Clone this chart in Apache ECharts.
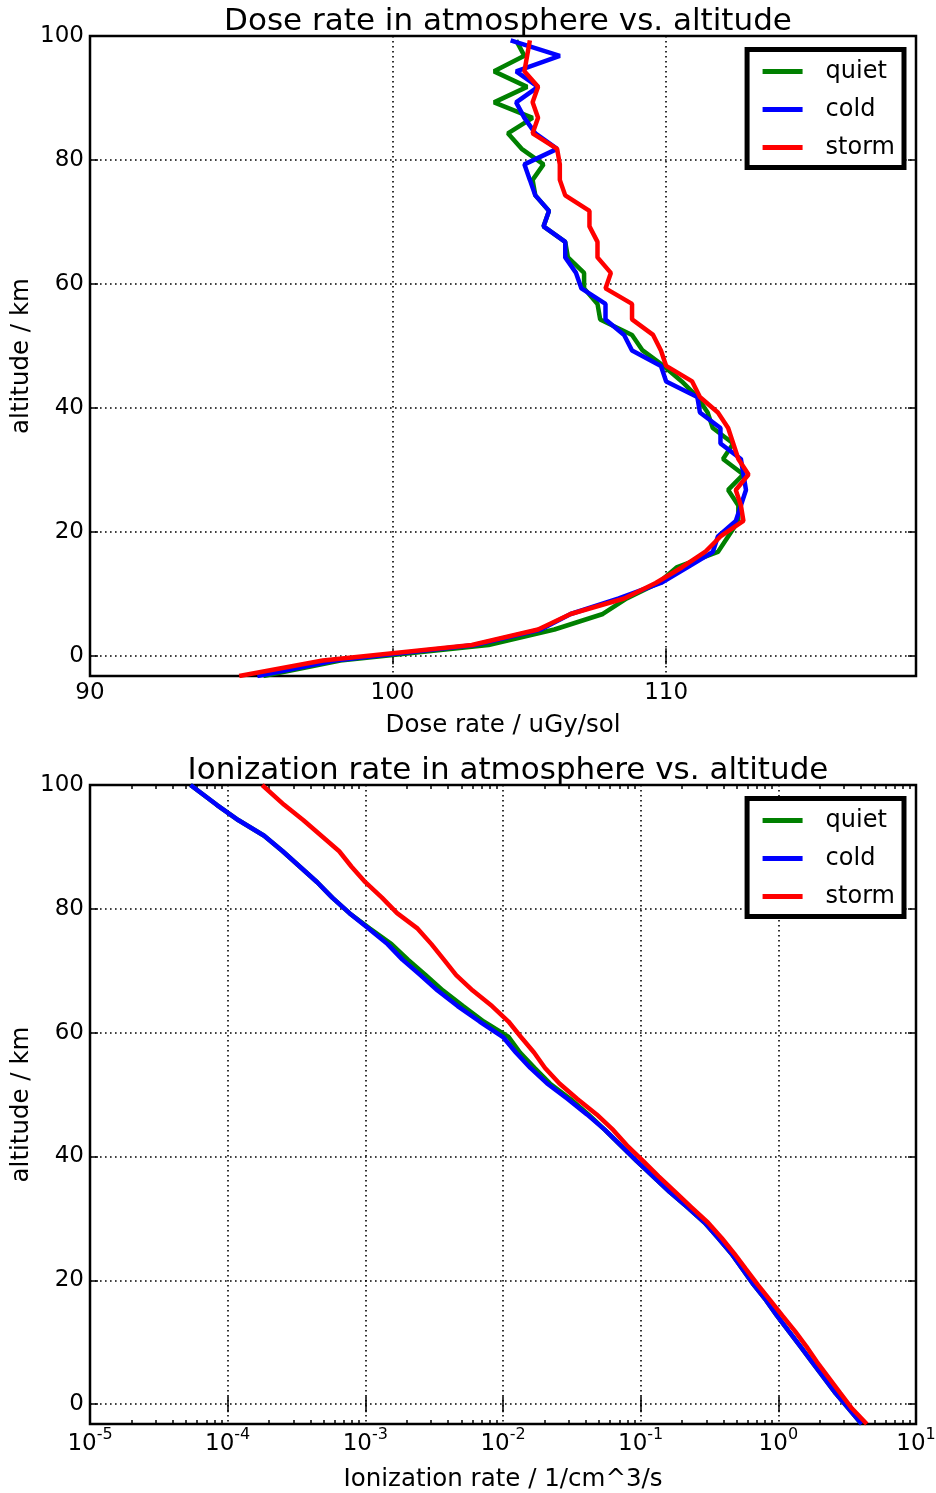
<!DOCTYPE html>
<html>
<head>
<meta charset="utf-8">
<script src="https://cdn.jsdelivr.net/npm/echarts@6/dist/echarts.min.js"></script>
<style>
  html, body { margin: 0; padding: 0; background: #fff; }
  #chart { width: 936px; height: 1493px; }
</style>
</head>
<body>
<div id="chart"></div>
<script>
// Altitude levels (km) of the dose profile
const ALTITUDE = [-3.2, -0.7, 1.8, 4.3, 6.8, 9.3, 11.8, 14.3, 16.8, 19.3, 21.8, 24.3, 26.8, 29.3,
  31.8, 34.3, 36.8, 39.3, 41.8, 44.3, 46.8, 49.3, 51.8, 54.3, 56.8, 59.3, 61.8, 64.3, 66.8, 69.3,
  71.8, 74.3, 76.8, 79.3, 81.8, 84.3, 86.8, 89.3, 91.8, 94.3, 96.8, 99.3];

// Dose rate (uGy/sol) per altitude level
const DOSE_QUIET = [95.6, 98.2, 103.4, 105.8, 107.6, 108.5, 109.7, 110.4, 112.0, 112.4, 112.8, 112.8, 112.4, 113.0,
  112.2, 112.6, 111.8, 111.6, 111.2, 110.6, 109.9, 109.1, 108.7, 107.5, 107.4, 106.9, 106.9, 106.3, 106.2, 105.4,
  105.6, 105.1, 105.0, 105.4, 104.6, 104.1, 105.0, 103.6, 104.8, 103.6, 104.7, 104.4];
const DOSE_COLD = [95.4, 98.0, 102.9, 105.3, 106.4, 108.2, 109.8, 110.8, 111.8, 112.0, 112.7, 112.9, 113.1, 113.0,
  112.9, 112.1, 112.1, 111.3, 111.2, 110.0, 109.8, 108.7, 108.4, 107.7, 107.7, 106.8, 106.6, 106.2, 106.2, 105.4,
  105.6, 105.1, 104.9, 104.7, 105.9, 105.1, 104.7, 104.4, 105.2, 104.4, 106.0, 104.2];
const DOSE_STORM = [94.8, 97.6, 102.8, 105.2, 106.4, 108.4, 109.6, 110.6, 111.5, 112.1, 113.0, 112.9, 112.7, 113.2,
  112.8, 112.6, 112.4, 112.0, 111.3, 111.0, 110.0, 109.8, 109.5, 108.7, 108.7, 107.7, 107.9, 107.4, 107.4, 107.1,
  107.1, 106.2, 106.0, 106.0, 105.9, 105.0, 105.2, 105.0, 105.2, 104.7, 104.8, 104.9];

// Altitude levels (km) of the ionization profile
const ION_ALTITUDE = [-3.2, -0.7, 1.8, 4.3, 6.8, 9.3, 11.8, 14.3, 16.8, 19.3, 21.8, 24.3, 26.8, 29.3,
  31.8, 34.3, 36.8, 39.3, 41.8, 44.3, 46.8, 49.3, 51.8, 54.3, 56.8, 59.3, 61.8, 64.3, 66.8, 69.3,
  71.8, 74.3, 76.8, 79.3, 81.8, 84.3, 86.8, 89.3, 91.8, 94.3, 96.8, 100];

// Ionization rate (1/cm^3/s) per altitude level
const ION_QUIET = [4.03, 3.24, 2.60, 2.14, 1.76, 1.45, 1.19, 0.977, 0.813, 0.661, 0.550, 0.457, 0.367, 0.292,
  0.219, 0.162, 0.123, 0.0933, 0.0716, 0.0550, 0.0417, 0.0309, 0.0219, 0.0170, 0.0133, 0.0110, 0.00724, 0.00513,
  0.00367, 0.00275, 0.00204, 0.00155, 0.00108, 7.67e-4, 5.75e-4, 4.47e-4, 3.35e-4, 2.51e-4, 1.84e-4, 1.20e-4,
  8.32e-5, 5.37e-5];
const ION_COLD = [4.03, 3.24, 2.60, 2.14, 1.76, 1.45, 1.19, 0.977, 0.813, 0.661, 0.550, 0.457, 0.367, 0.292,
  0.219, 0.162, 0.123, 0.0933, 0.0716, 0.0550, 0.0407, 0.0295, 0.0209, 0.0158, 0.0124, 0.0100, 0.00676, 0.00468,
  0.00335, 0.00251, 0.00186, 0.00145, 0.00106, 7.67e-4, 5.75e-4, 4.47e-4, 3.35e-4, 2.51e-4, 1.84e-4, 1.20e-4,
  8.32e-5, 5.37e-5];
const ION_STORM = [4.39, 3.43, 2.82, 2.32, 1.91, 1.60, 1.32, 1.07, 0.871, 0.708, 0.582, 0.479, 0.389, 0.309,
  0.234, 0.178, 0.135, 0.104, 0.0794, 0.0631, 0.0479, 0.0347, 0.0257, 0.0202, 0.0168, 0.0135, 0.01096, 0.00832,
  0.00603, 0.00457, 0.00372, 0.00302, 0.00240, 0.00170, 0.00132, 0.00100, 7.94e-4, 6.46e-4, 4.79e-4, 3.55e-4,
  2.57e-4, 1.78e-4];

const SERIES_NAMES = ['quiet', 'cold', 'storm'];
const SERIES_COLORS = ['#008000', '#0000ff', '#ff0000'];

// Tick positions and labels
const DOSE_LABELS = [90, 100, 110];
const DOSE_TICKS = [100, 110];
const ALT_TICKS = [0, 20, 40, 60, 80, 100];
const ION_TICKS = [1e-5, 1e-4, 1e-3, 1e-2, 1e-1, 1e0, 1e1];
const ION_MINOR = [];
for (let e = -5; e < 1; e++) {
  for (let k = 2; k <= 9; k++) ION_MINOR.push(k * Math.pow(10, e));
}

const FONT = 'DejaVu Sans';
const BLACK = '#000';
const TICK_FONT = 23;
const LABEL_FONT = 24.5;

const grids = [
  { left: 90, top: 36, width: 826, height: 640 },
  { left: 90, top: 785, width: 826, height: 639 }
].map(g => Object.assign(g, {
  show: true, borderColor: BLACK, borderWidth: 2.5, backgroundColor: 'transparent',
  containLabel: false, outerBoundsMode: 'none'
}));

const gridLine = { show: true, lineStyle: { color: BLACK, width: 1.6, type: [1.6, 3.4] } };

function tickStyle(values, len) {
  return { show: true, inside: true, length: len, customValues: values, lineStyle: { color: BLACK, width: 1.5 } };
}

// Axis that only draws inward ticks (mirrored sides and minor ticks)
function tickAxis(gridIndex, type, min, max, position, values, len) {
  return {
    gridIndex, type, min, max, position,
    axisLine: { show: false },
    axisLabel: { show: false },
    splitLine: { show: false },
    axisTick: tickStyle(values, len)
  };
}

const supLabel = {
  fontFamily: FONT, color: BLACK, margin: 3,
  customValues: ION_TICKS,
  formatter: v => '{b|10}{s|' + Math.round(Math.log10(v)) + '}',
  rich: {
    b: { fontSize: TICK_FONT, fontFamily: FONT, color: BLACK },
    s: { fontSize: 16, fontFamily: FONT, color: BLACK, padding: [0, 0, 18, 0] }
  }
};

const xAxes = [
  {
    gridIndex: 0, type: 'log', min: 90, max: 120, position: 'bottom',
    name: 'Dose rate / uGy/sol', nameLocation: 'middle', nameGap: 37,
    nameTextStyle: { fontFamily: FONT, fontSize: LABEL_FONT, color: BLACK },
    axisLine: { show: false },
    axisLabel: { fontFamily: FONT, fontSize: TICK_FONT, color: BLACK, margin: 6, customValues: DOSE_LABELS },
    axisTick: tickStyle(DOSE_TICKS, 8),
    splitLine: gridLine
  },
  tickAxis(0, 'log', 90, 120, 'top', DOSE_TICKS, 8),
  {
    gridIndex: 1, type: 'log', min: 1e-5, max: 10, position: 'bottom',
    name: 'Ionization rate / 1/cm^3/s', nameLocation: 'middle', nameGap: 43,
    nameTextStyle: { fontFamily: FONT, fontSize: LABEL_FONT, color: BLACK },
    axisLine: { show: false },
    axisLabel: supLabel,
    axisTick: tickStyle(ION_TICKS, 8),
    splitLine: gridLine
  },
  tickAxis(1, 'log', 1e-5, 10, 'top', ION_TICKS, 8),
  tickAxis(1, 'log', 1e-5, 10, 'bottom', ION_MINOR, 4),
  tickAxis(1, 'log', 1e-5, 10, 'top', ION_MINOR, 4)
];

function altAxis(gridIndex) {
  return {
    gridIndex, type: 'value', min: -3.2, max: 100, position: 'left',
    name: 'altitude / km', nameLocation: 'middle', nameGap: 56, nameRotate: 90,
    nameMoveOverlap: false,
    nameTextStyle: { fontFamily: FONT, fontSize: LABEL_FONT, color: BLACK },
    axisLine: { show: false },
    axisLabel: { fontFamily: FONT, fontSize: TICK_FONT, color: BLACK, margin: 6, customValues: ALT_TICKS },
    axisTick: tickStyle(ALT_TICKS, 8),
    splitLine: gridLine
  };
}

const yAxes = [
  altAxis(0),
  tickAxis(0, 'value', -3.2, 100, 'right', ALT_TICKS, 8),
  altAxis(1),
  tickAxis(1, 'value', -3.2, 100, 'right', ALT_TICKS, 8)
];

function profile(values, altitudes) {
  return values.map((v, i) => [v, altitudes[i]]);
}

function lineSeries(name, color, xAxisIndex, yAxisIndex, data) {
  return {
    name, type: 'line', xAxisIndex, yAxisIndex, data,
    showSymbol: false, symbol: 'none', color,
    lineStyle: { color, width: 4.5 },
    animation: false, z: 3
  };
}

const doseSets = [DOSE_QUIET, DOSE_COLD, DOSE_STORM];
const ionSets = [ION_QUIET, ION_COLD, ION_STORM];
const series = [];
SERIES_NAMES.forEach((n, i) => series.push(lineSeries(n, SERIES_COLORS[i], 0, 0, profile(doseSets[i], ALTITUDE))));
SERIES_NAMES.forEach((n, i) => series.push(lineSeries(n, SERIES_COLORS[i], 2, 2, profile(ionSets[i], ION_ALTITUDE))));

function legendBox(top) {
  return {
    data: SERIES_NAMES, orient: 'vertical', right: 32, top,
    icon: 'rect', itemWidth: 40, itemHeight: 5, itemGap: 14,
    borderColor: BLACK, borderWidth: 5, backgroundColor: '#fff',
    padding: [10, 9, 8, 15.5], selectedMode: false,
    textStyle: { fontFamily: FONT, fontSize: 24, color: BLACK, padding: [0, 0, 0, 18] }
  };
}

function titleAt(text, top) {
  return {
    text, left: 503, top, textAlign: 'center',
    textStyle: { fontFamily: FONT, fontSize: 31, fontWeight: 'normal', color: BLACK }
  };
}

const chart = echarts.init(document.getElementById('chart'), null, { renderer: 'canvas' });
chart.setOption({
  animation: false,
  backgroundColor: '#fff',
  title: [
    titleAt('Dose rate in atmosphere vs. altitude', 1),
    titleAt('Ionization rate in atmosphere vs. altitude', 750)
  ],
  legend: [legendBox(49.5), legendBox(798.5)],
  grid: grids,
  xAxis: xAxes,
  yAxis: yAxes,
  series
});
</script>
</body>
</html>
